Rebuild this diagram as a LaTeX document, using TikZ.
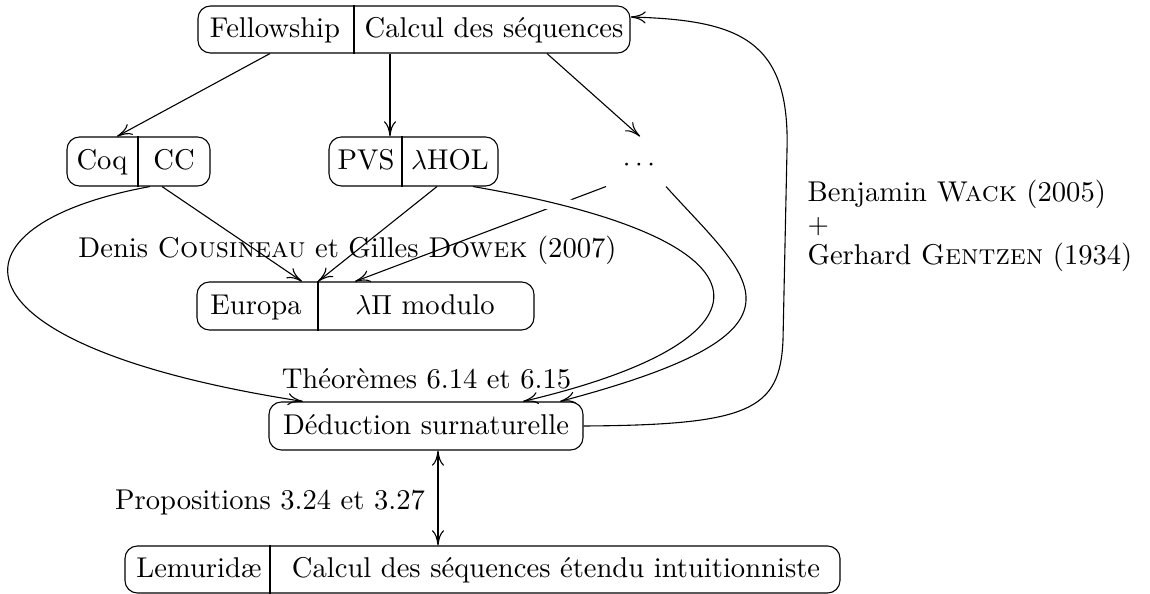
\documentclass[tikz,border=0pt]{standalone}
\usepackage{fontspec}
\usetikzlibrary{arrows.meta,fit}
\begin{document}
\begin{tikzpicture}[x=0.3636pt,y=-0.3636pt,
  every node/.style={font=\fontsize{10.4pt}{12.5pt}\selectfont},
  box/.style={draw, rounded corners=4.5pt, inner sep=0pt, line width=0.4pt},
  ghost/.style={inner sep=0pt},
  txt/.style={anchor=base, inner sep=0pt},
  lab/.style={anchor=base, inner sep=0pt},
  conn/.style={line width=0.4pt, -{Computer Modern Rightarrow[length=5.5pt,width=4.4pt]}},
  dconn/.style={line width=0.4pt, {Computer Modern Rightarrow[length=5.5pt,width=4.4pt]}-{Computer Modern Rightarrow[length=5.5pt,width=4.4pt]}},
  divider/.style={line width=0.4pt}]
\useasboundingbox (0,0) rectangle (1150,594);

% boxes
\node[box, fit={(198,6) (630,53)}] (fell) {};
\draw[divider] (fell.north -| 354,0) -- (fell.south -| 354,0);
\node[txt] (fellA) at (275,38) {Fellowship};
\node[txt] (fellB) at (494,38) {Calcul des séquences};

\node[box, fit={(67,137) (210,186)}] (coq) {};
\draw[divider] (coq.north -| 138,0) -- (coq.south -| 138,0);
\node[txt] (coqA) at (102,170) {Coq};
\node[txt] (coqB) at (174,170) {CC};

\node[box, fit={(329,137) (498,186)}] (pvs) {};
\draw[divider] (pvs.north -| 402,0) -- (pvs.south -| 402,0);
\node[txt] (pvsA) at (366,170) {PVS};
\node[txt] (pvsB) at (450,170) {$\lambda$HOL};

\node[ghost, fit={(600,137) (680,186)}] (dots) {};
\node[txt] (dotsT) at (639,172) {$\cdots$};

\node[box, fit={(197,282) (534,330)}] (eur) {};
\draw[divider] (eur.north -| 318,0) -- (eur.south -| 318,0);
\node[txt] (eurA) at (256,314.5) {Europa};
\node[txt] (eurB) at (425,314.5) {$\lambda\Pi$ modulo};

\node[box, fit={(269,402) (583,450)}] (ded) {};
\node[txt] (dedT) at (426,434.5) {Déduction surnaturelle};

\node[box, fit={(125,546) (840,593)}] (lem) {};
\draw[divider] (lem.north -| 270,0) -- (lem.south -| 270,0);
\node[txt] (lemA) at (199,578) {Lemuridæ};
\node[txt] (lemB) at (556,578) {Calcul des séquences étendu intuitionniste};

% labels
\node[lab] (denis) at (347.5,258) {Denis \textsc{Cousineau} et Gilles \textsc{Dowek} (2007)};
\node[lab] (theo) at (426.5,389) {Théorèmes 6.14 et 6.15};
\node[lab] (prop) at (270,510) {Propositions 3.24 et 3.27};
\node[anchor=base west, inner sep=0pt] (wack) at (807,265)
  {\shortstack[l]{Benjamin \textsc{Wack} (2005)\\$+$\\Gerhard \textsc{Gentzen} (1934)}};

% connectors
\draw[conn] (fell.south -| 270,0) -- (coq.north -| 117,0);
\draw[conn] (fell.south -| 390,0) -- (pvs.north -| 390,0);
\draw[conn] (fell.south -| 547,0) -- (dots.north -| 640,0);
\draw[conn] (coq.south -| 162,0) -- (eur.north -| 302,0);
\draw[conn] (pvs.south -| 437,0) -- (eur.north -| 318,0);
\draw[conn] (dots.south -| 606,0) -- (eur.north -| 355,0);
\begin{scope}
  \clip (530,188) rectangle (590,222);
  \draw[white, line width=5.5pt] (pvs.south -| 473,0) .. controls (785,240) and (785,340) .. (ded.north -| 523,0);
\end{scope}
\draw[conn] (coq.south -| 150,0) .. controls (-60,225) and (-60,345) .. (ded.north -| 303,0);
\draw[conn] (pvs.south -| 473,0) .. controls (785,240) and (785,340) .. (ded.north -| 523,0);
\draw[conn] (dots.south -| 666,0) .. controls (750,280) and (830,330) .. (ded.north -| 560,0);
\draw[conn] (ded.east) .. controls (750,425) and (780,410) .. (783,340) -- (787,150) .. controls (790,40) and (740,20) .. (fell.east |- 0,17);
\draw[dconn] (ded.south -| 438,0) -- (lem.north -| 438,0);
\end{tikzpicture}
\end{document}
